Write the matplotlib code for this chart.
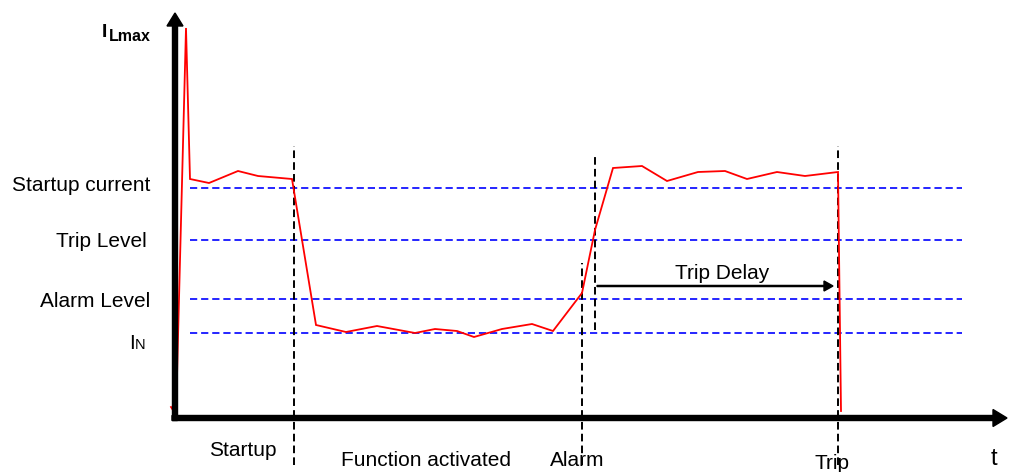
import matplotlib
matplotlib.use("Agg")
import matplotlib.pyplot as plt

plt.rcParams['font.family'] = ['Liberation Sans', 'DejaVu Sans']
plt.rcParams['lines.scale_dashes'] = False

# Current trace (time units, current units; axis origin at 0,0)
time = [-4, 1, 11, 15, 34, 63, 83, 117, 141, 171, 202, 240, 260, 282, 299,
        327, 357, 378, 407, 420, 438, 467, 492, 523, 550, 572, 602, 630, 663, 666]
current = [11, 3, 390, 239, 235, 247, 242, 239, 93, 86, 92, 85, 89, 87, 81,
           89, 94, 87, 125, 188, 250, 252, 237, 246, 247, 239, 246, 242, 246, 7]

# Horizontal levels
level_names = ["Startup current", "Trip Level", "Alarm Level"]
level_values = [230, 178, 119.5]
level_label_right = [-25, -28.3, -25]
level_label_base = [227.3, 170.7, 111.3]
in_value = 85
level_start, level_end = 15, 787

# Vertical event markers: (time, top, bottom)
event_times = [119, 407, 420, 663]
event_tops = [272, 155, 263, 272]
event_bottoms = [-47, -47, 88, -47]

# Bottom labels
bottom_labels = ["Startup", "Function activated", "Alarm", "Trip"]
bottom_x = [68, 251, 402, 657]
bottom_y = [-38, -48, -48, -51]

trip_delay_start, trip_delay_end, trip_delay_level = 422, 658, 132

fig = plt.figure(figsize=(10.13, 4.72), dpi=100)
ax = fig.add_axes([0, 0, 1, 1])
ax.set_xlim(-175, 838)
ax.set_ylim(-54, 418)
ax.axis('off')

# Blue dashed levels
for v in level_values + [in_value]:
    ax.plot([level_start, level_end], [v, v], color='#0000ff', lw=1.2,
            dashes=(5.2, 2.8), zorder=2)

# Black dashed event markers
for t, top, bot in zip(event_times, event_tops, event_bottoms):
    ax.plot([t, t], [bot, top], color='black', lw=1.4, dashes=(5.5, 3.0), zorder=3)

# Red current trace
ax.plot(time, current, color='#ff0000', lw=1.3, zorder=4, solid_joinstyle='miter')

# Axes arrows
ax.arrow(0, -2.5, 0, 407.5, width=5, head_width=16, head_length=13,
         length_includes_head=True, color='black', zorder=5)
ax.arrow(-3, 0, 835, 0, width=5, head_width=17, head_length=14,
         length_includes_head=True, color='black', zorder=5)

# Trip delay arrow
ax.arrow(trip_delay_start, trip_delay_level, trip_delay_end - trip_delay_start, 0,
         width=1.1, head_width=10, head_length=9, length_includes_head=True,
         color='black', zorder=5)
ax.text(547, 138.7, "Trip Delay", fontsize=15, ha='center', va='baseline')

# Level labels
for name, xr, yb in zip(level_names, level_label_right, level_label_base):
    ax.text(xr, yb, name, fontsize=15, ha='right', va='baseline')
ax.text(-40.0, 69, "I", fontsize=15, ha='right', va='baseline')
ax.text(-40.5, 69, "N", fontsize=10.5, ha='left', va='baseline')

# Y axis label
ax.text(-73, 381, "I", fontsize=14, fontweight='bold', ha='left', va='baseline')
ax.text(-66, 377, "Lmax", fontsize=11.5, fontweight='bold', ha='left', va='baseline')

# Bottom labels
for lab, x, y in zip(bottom_labels, bottom_x, bottom_y):
    ax.text(x, y, lab, fontsize=15, ha='center', va='baseline')
ax.text(819, -47, "t", fontsize=17, ha='center', va='baseline')

fig.savefig("out.png", dpi=100)
